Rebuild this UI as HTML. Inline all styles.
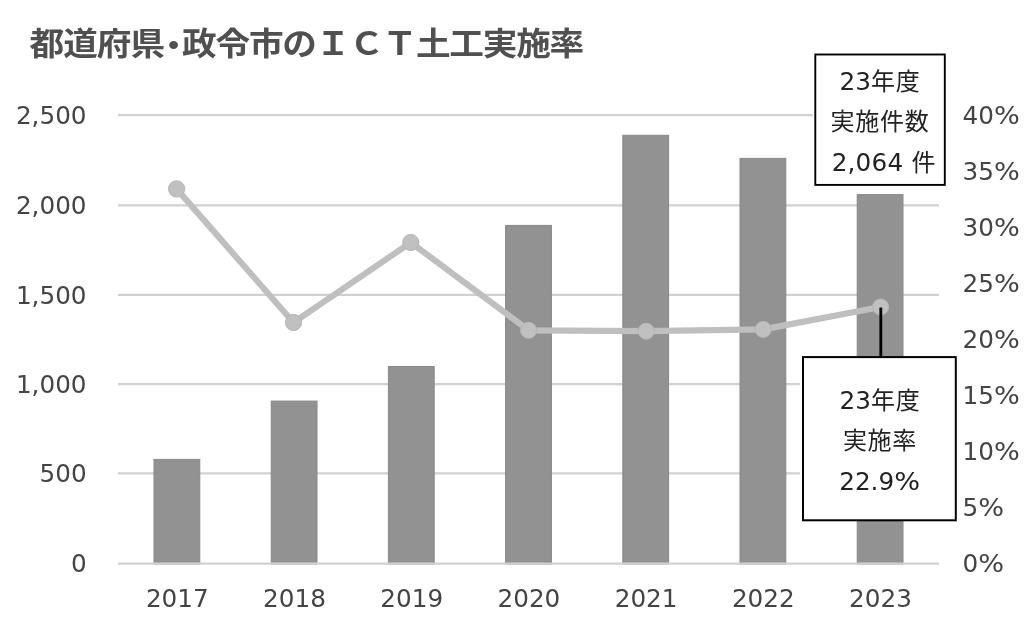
<!DOCTYPE html>
<html lang="ja">
<head>
<meta charset="utf-8">
<title>都道府県・政令市のICT土工実施率</title>
<style>
html,body{margin:0;padding:0;background:#fff;}
body{width:1036px;height:630px;overflow:hidden;}
svg{display:block;}
.ax{font-family:"DejaVu Sans","Liberation Sans","Noto Sans CJK JP",sans-serif;font-size:24.7px;fill:#444;}
.ttl{font-family:"Liberation Sans","Noto Sans CJK JP",sans-serif;font-weight:bold;font-size:31.5px;letter-spacing:-0.95px;fill:#505050;}
.cb{font-family:"DejaVu Sans","Noto Sans CJK JP",sans-serif;font-size:24.7px;fill:#222;}
.cj{font-family:"Noto Sans CJK JP","Liberation Sans",sans-serif;font-size:24px;letter-spacing:0.75px;}
</style>
</head>
<body>
<svg width="1036" height="630" viewBox="0 0 1036 630">
<rect width="1036" height="630" fill="#ffffff"/>
<g transform="translate(29.6,55.3) scale(1.10,1)"><text class="ttl" x="0" y="0">都道府県<tspan x="115.2" dy="1.7">・</tspan><tspan x="138.6" dy="-1.7" style="letter-spacing:-1.12px">政令市のＩＣＴ土工実施率</tspan></text></g>
<g stroke="#d1d1d1" stroke-width="2.2">
<line x1="118" y1="473.4" x2="800" y2="473.4"/>
<line x1="118" y1="384.1" x2="800" y2="384.1"/>
<line x1="118" y1="294.9" x2="939" y2="294.9"/>
<line x1="118" y1="205.4" x2="939" y2="205.4"/>
<line x1="118" y1="115.1" x2="812.8" y2="115.1"/>
</g>
<g fill="#929292" stroke="#888888" stroke-width="1">
<rect x="154.0" y="459.4" width="45.8" height="104.7"/>
<rect x="271.2" y="401.1" width="45.8" height="163.0"/>
<rect x="388.4" y="366.5" width="45.8" height="197.6"/>
<rect x="505.6" y="225.4" width="45.8" height="338.7"/>
<rect x="622.8" y="135.3" width="45.8" height="428.8"/>
<rect x="740.0" y="158.4" width="45.8" height="405.7"/>
<rect x="857.2" y="194.6" width="45.8" height="369.5"/>
</g>
<line x1="118" y1="563.6" x2="939" y2="563.6" stroke="#d1d1d1" stroke-width="2.2"/>
<polyline points="176.6,188.9 293.5,322.5 410.8,242.5 528.6,330.3 646.2,331.2 763.2,329.4 880.6,307.0" fill="none" stroke="#bfbfbf" stroke-width="6.2" stroke-linejoin="round" stroke-linecap="round"/>
<g fill="#c0c0c0" stroke="#b4b4b4" stroke-width="1">
<circle cx="176.6" cy="188.9" r="8.1"/>
<circle cx="293.5" cy="322.5" r="8.1"/>
<circle cx="410.8" cy="242.5" r="8.1"/>
<circle cx="528.6" cy="330.3" r="8.1"/>
<circle cx="646.2" cy="331.2" r="8.1"/>
<circle cx="763.2" cy="329.4" r="8.1"/>
<circle cx="880.6" cy="307.0" r="8.1"/>
</g>
<g class="ax" text-anchor="end">
<text x="86.6" y="572.2">0</text>
<text x="86.6" y="482.0">500</text>
<text x="86.6" y="392.7">1,000</text>
<text x="86.6" y="303.5">1,500</text>
<text x="86.6" y="214.0">2,000</text>
<text x="86.6" y="123.7">2,500</text>
</g>
<g class="ax" text-anchor="start">
<text x="962.6" y="572.2">0<tspan textLength="25.8" lengthAdjust="spacingAndGlyphs">%</tspan></text>
<text x="962.6" y="516.1">5<tspan textLength="25.8" lengthAdjust="spacingAndGlyphs">%</tspan></text>
<text x="962.6" y="460.1">10<tspan textLength="25.8" lengthAdjust="spacingAndGlyphs">%</tspan></text>
<text x="962.6" y="404.0">15<tspan textLength="25.8" lengthAdjust="spacingAndGlyphs">%</tspan></text>
<text x="962.6" y="348.0">20<tspan textLength="25.8" lengthAdjust="spacingAndGlyphs">%</tspan></text>
<text x="962.6" y="291.9">25<tspan textLength="25.8" lengthAdjust="spacingAndGlyphs">%</tspan></text>
<text x="962.6" y="235.8">30<tspan textLength="25.8" lengthAdjust="spacingAndGlyphs">%</tspan></text>
<text x="962.6" y="179.8">35<tspan textLength="25.8" lengthAdjust="spacingAndGlyphs">%</tspan></text>
<text x="962.6" y="123.7">40<tspan textLength="25.8" lengthAdjust="spacingAndGlyphs">%</tspan></text>
</g>
<g class="ax" text-anchor="middle">
<text x="177.3" y="607">2017</text>
<text x="294.5" y="607">2018</text>
<text x="411.7" y="607">2019</text>
<text x="528.9" y="607">2020</text>
<text x="646.1" y="607">2021</text>
<text x="763.3" y="607">2022</text>
<text x="880.5" y="607">2023</text>
</g>
<line x1="880.8" y1="307.6" x2="880.8" y2="357" stroke="#000" stroke-width="2.8"/>
<rect x="815.3" y="54.5" width="129.5" height="130.4" fill="#fff" stroke="#000" stroke-width="1.9"/>
<g class="cb" text-anchor="middle">
<text x="880" y="89.9">23<tspan class="cj">年度</tspan></text>
<text class="cj" x="880" y="130">実施件数</text>
<text x="883.9" y="170.5" style="letter-spacing:0.2px">2,064 <tspan class="cj">件</tspan></text>
</g>
<rect x="803" y="357.1" width="152.8" height="163.2" fill="#fff" stroke="#000" stroke-width="2"/>
<g class="cb" text-anchor="middle">
<text x="880" y="409">23<tspan class="cj">年度</tspan></text>
<text class="cj" x="880" y="449">実施率</text>
<text x="879.6" y="490">22.9<tspan textLength="25.8" lengthAdjust="spacingAndGlyphs">%</tspan></text>
</g>
</svg>
</body>
</html>
